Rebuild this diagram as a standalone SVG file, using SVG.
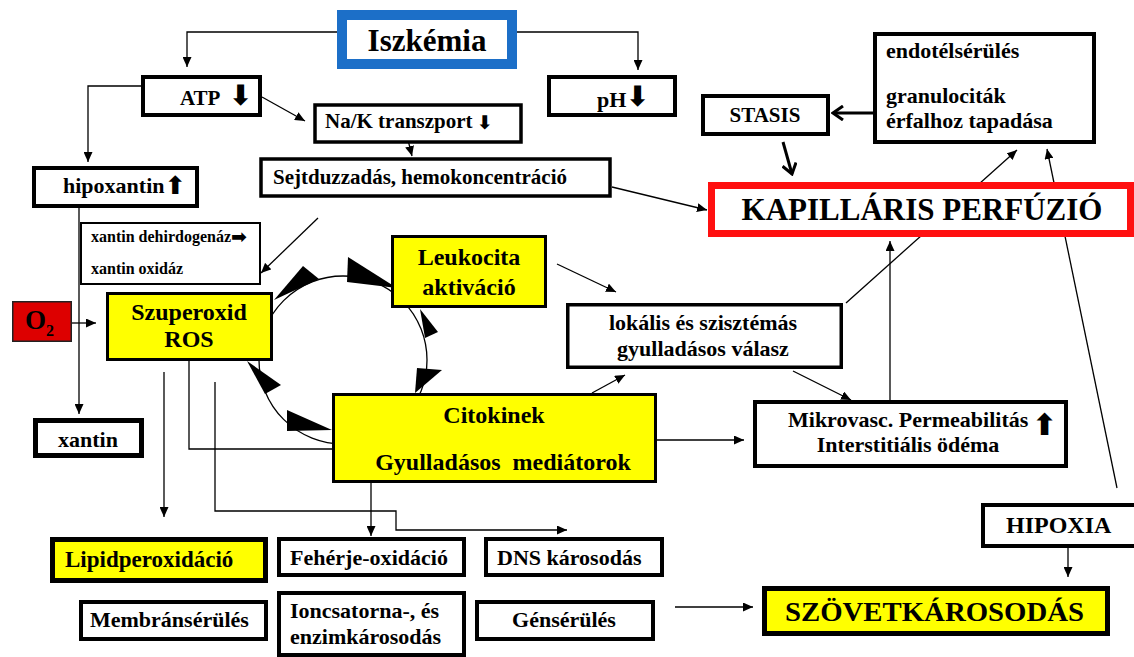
<svg xmlns="http://www.w3.org/2000/svg" width="1134" height="657" viewBox="0 0 1134 657">
<defs>
<marker id="ah" markerUnits="userSpaceOnUse" markerWidth="10" markerHeight="9" refX="10" refY="4.5" orient="auto"><path d="M0,0 L10,4.5 L0,9 z" fill="#000"/></marker>
<marker id="oh" markerUnits="userSpaceOnUse" markerWidth="14" markerHeight="16" refX="12" refY="8" orient="auto"><path d="M2,1 L12,8 L2,15" fill="none" stroke="#000" stroke-width="3"/></marker>
</defs>
<style>
text{font-family:"Liberation Serif","Times New Roman",serif;font-weight:bold;fill:#000}
.b{fill:#fff;stroke:#000}
.y{fill:#ffff00;stroke:#000}
.c{fill:none;stroke:#000;stroke-width:1.3}
.a{marker-end:url(#ah)}
.t{fill:none;stroke:#000;stroke-width:3;marker-end:url(#oh)}
.s{font-size:22px}
.m{text-anchor:middle}
.g{font-family:"DejaVu Sans",sans-serif;font-weight:bold}
</style>
<g id="connectors">
<path class="c a" d="M340,32 H187 V67"/>
<path class="c a" d="M512,32 H638 V70"/>
<path class="c a" d="M262,97 L305,121"/>
<path class="c a" d="M141,86 H88 V162"/>
<path class="c a" d="M404,124 L412,156"/>
<path class="c a" d="M612,187 L707,210"/>
<path class="c a" d="M79,208 V414"/>
<path class="c a" d="M318,218 L261,273"/>
<path class="c a" d="M72,323 H96"/>
<path class="c a" d="M557,264 L616,292"/>
<path class="c a" d="M592,393 L625,375"/>
<path class="c a" d="M793,371 L851,400"/>
<path class="c a" d="M657,440 H744"/>
<path class="c a" d="M846,303 L1017,150"/>
<path class="c a" d="M890,400 V241"/>
<path class="c a" d="M1117,488 L1047,149"/>
<path class="t" d="M873,113 H833"/>
<path class="t" d="M783,142 L792,174"/>
<path class="c a" d="M164,372 V517"/>
<path class="c" d="M189,361 V449 H332"/>
<path class="c a" d="M215,382 V511 H396 V530 H567"/>
<path class="c a" d="M371,483 V536"/>
<path class="c a" d="M675,607 H753"/>
<path class="c a" d="M1068,548 V577"/>
<g id="cycle">
<circle cx="343" cy="360" r="84" fill="none" stroke="#000" stroke-width="1.3"/>
<polygon points="274,300 303,266 319,279" fill="#000"/>
<polygon points="348,257 347,282 397,288" fill="#000"/>
<polygon points="420,309 425,338 438,332" fill="#000"/>
<polygon points="417,368 442,370 415,393" fill="#000"/>
<polygon points="247,361 265,394 281,385" fill="#000"/>
<polygon points="287,410 287,431 332,430" fill="#000"/>
</g>
</g>
<g id="iszkemia"><rect x="342" y="15" width="170" height="49" fill="#fff" stroke="#1c6fc8" stroke-width="10"/><text x="427" y="51" class="m" font-size="31">Iszkémia</text></g>
<g id="atp"><rect class="b" x="143" y="77" width="117" height="38" stroke-width="4"/><text x="180" y="105" font-size="21">ATP</text><text x="229" y="105" class="g" font-size="28">⬇</text></g>
<g id="nak"><rect class="b" x="315" y="105" width="206" height="37" stroke-width="3.5"/><text x="325" y="128" font-size="21">Na/K transzport</text><text x="477" y="129" class="g" font-size="19">⬇</text></g>
<g id="ph"><rect class="b" x="549" y="77" width="126" height="38" stroke-width="4"/><text x="597" y="107" font-size="22">pH</text><text x="626" y="106" class="g" font-size="28">⬇</text></g>
<g id="sejt"><rect class="b" x="261" y="159" width="349" height="37" stroke-width="3.5"/><text x="273" y="184" font-size="21">Sejtduzzadás, hemokoncentráció</text></g>
<g id="hipoxantin"><rect class="b" x="34" y="168" width="163" height="38" stroke-width="4"/><text x="63" y="193" class="s">hipoxantin</text><text x="165" y="194" class="g" font-size="25">⬆</text></g>
<g id="xantindehid"><rect class="b" x="81" y="223" width="179" height="61" stroke-width="2"/><text x="91" y="242" font-size="16">xantin dehirdogenáz</text><text x="231" y="243" class="g" font-size="19">➡</text><text x="91" y="274" font-size="16">xantin oxidáz</text></g>
<g id="o2"><rect x="12.75" y="301.75" width="58.5" height="39.5" fill="#dd0000" stroke="#222" stroke-width="1.5"/><text x="25" y="329" font-size="27">O</text><text x="46" y="336" font-size="16">2</text></g>
<g id="szuperoxid"><rect class="y" x="107.5" y="293.5" width="164" height="66" stroke-width="3"/><text x="189" y="320" class="m" font-size="24">Szuperoxid</text><text x="189" y="347" class="m" font-size="24">ROS</text></g>
<g id="xantin"><rect class="b" x="35.5" y="420.5" width="106" height="35" stroke-width="5"/><text x="88" y="447" class="m s">xantin</text></g>
<g id="leukocita"><rect class="y" x="392.5" y="236.5" width="153" height="70" stroke-width="3"/><text x="469" y="265" class="m" font-size="24">Leukocita</text><text x="469" y="295" class="m" font-size="24">aktiváció</text></g>
<g id="lokalis"><rect class="b" x="567.75" y="304.75" width="273.5" height="62.5" stroke-width="3.5"/><text x="703" y="330" class="m s">lokális és szisztémás</text><text x="703" y="356" class="m s">gyulladásos válasz</text></g>
<g id="citokinek"><rect class="y" x="333.5" y="394.5" width="322" height="87" stroke-width="3"/><text x="494" y="423" class="m" font-size="24">Citokinek</text><text x="503" y="470" class="m" font-size="24" xml:space="preserve">Gyulladásos  mediátorok</text></g>
<g id="mikrovasc"><rect class="b" x="755" y="402" width="311" height="64" stroke-width="4"/><text x="788" y="427" class="s">Mikrovasc. Permeabilitás</text><text x="1032" y="435" class="g" font-size="30">⬆</text><text x="908" y="452" class="m s">Interstitiális ödéma</text></g>
<g id="kapillaris"><rect x="711.5" y="185.5" width="419" height="48" fill="#fff" stroke="#ff1010" stroke-width="7"/><text x="922" y="220" class="m" font-size="31">KAPILLÁRIS PERFÚZIÓ</text></g>
<g id="stasis"><rect class="b" x="703" y="96" width="125" height="38" stroke-width="4"/><text x="765" y="122" class="m" font-size="21">STASIS</text></g>
<g id="endotel"><rect class="b" x="875" y="34" width="219" height="108" stroke-width="4"/><text x="886" y="58" class="s">endotélsérülés</text><text x="886" y="103" class="s">granulociták</text><text x="886" y="128" class="s">érfalhoz tapadása</text></g>
<g id="lipid"><rect class="y" x="52.5" y="539.5" width="213" height="41" stroke-width="5"/><text x="65" y="567" font-size="23">Lipidperoxidáció</text></g>
<g id="feherje"><rect class="b" x="279" y="539" width="185" height="36" stroke-width="4"/><text x="290" y="565" class="s" textLength="158" lengthAdjust="spacing">Fehérje-oxidáció</text></g>
<g id="membran"><rect class="b" x="81" y="602" width="185" height="37" stroke-width="4"/><text x="90" y="627" class="s">Membránsérülés</text></g>
<g id="ioncsatorna"><rect class="b" x="279" y="593" width="185" height="62" stroke-width="4"/><text x="290" y="618" class="s">Ioncsatorna-, és</text><text x="290" y="644" class="s">enzimkárosodás</text></g>
<g id="dns"><rect class="b" x="486" y="539" width="176" height="36" stroke-width="4"/><text x="497" y="565" class="s">DNS károsodás</text></g>
<g id="genserules"><rect class="b" x="477" y="602" width="176" height="37" stroke-width="4"/><text x="564" y="627" class="m s">Génsérülés</text></g>
<g id="szovet"><rect class="y" x="764.5" y="588.5" width="343" height="45" stroke-width="5"/><text x="785" y="621" font-size="28" textLength="299" lengthAdjust="spacingAndGlyphs">SZÖVETKÁROSODÁS</text></g>
<g id="hipoxia"><rect class="b" x="983" y="505" width="160" height="41" stroke-width="4"/><text x="1006" y="533" font-size="24">HIPOXIA</text></g>
</svg>
